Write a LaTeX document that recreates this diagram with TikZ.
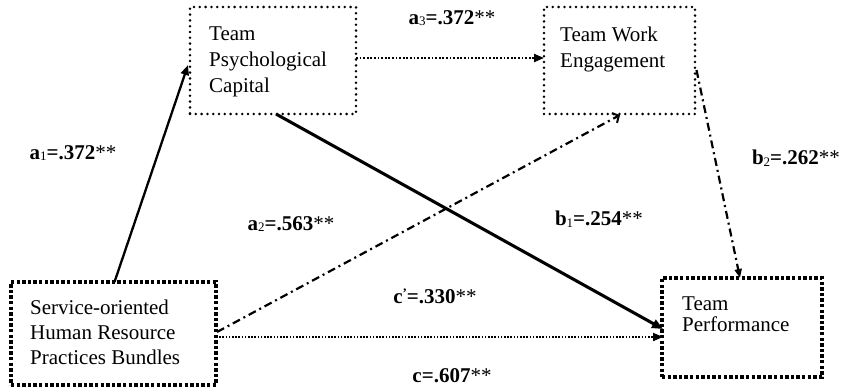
\documentclass[tikz,border=0pt]{standalone}
\usepackage{fontspec}
\setmainfont{Liberation Serif}
\usetikzlibrary{arrows.meta,calc}
\newcommand\sbs[1]{\raisebox{-1.5pt}{\fontsize{13}{13}\selectfont\mdseries #1}}
\newcommand\stars{{\mdseries **}}
\begin{document}
\begin{tikzpicture}[x=1pt,y=-1pt,
  roundbox/.style={draw, line width=2.8pt, dash pattern=on 0pt off 5.8pt, line cap=round, inner sep=0pt, outer sep=0pt},
  squarebox/.style={draw, line width=3.4pt, dash pattern=on 3.4pt off 2.2pt, inner sep=0pt, outer sep=0pt},
  boxtext/.style={anchor=north west, align=left, inner sep=0pt},
  lab/.style={font=\fontsize{21}{24}\selectfont\bfseries, inner sep=0pt},
  solidarr/.style={line width=2.3pt, -{Triangle[length=10pt,width=8pt]}},
  thickarr/.style={line width=3.1pt, -{Triangle[length=11pt,width=9pt]}},
  dotarr/.style={line width=2.2pt, dash pattern=on 1.8pt off 1.8pt, -{Triangle[length=10pt,width=8pt]}},
  dashdotarr/.style={line width=2.2pt, dash pattern=on 8pt off 4pt on 2pt off 4pt},
]
\useasboundingbox (0,0) rectangle (842,391);

% boxes
\node[roundbox, minimum width=166pt, minimum height=107pt] (pc) at (273,60.5) {};
\node[roundbox, minimum width=151pt, minimum height=107pt] (twe) at (619.5,60.5) {};
\node[squarebox, minimum width=205pt, minimum height=103pt] (shrm) at (113.5,333.5) {};
\node[squarebox, minimum width=160pt, minimum height=99pt] (tp) at (742,327.5) {};

% box texts
\node[boxtext, font=\fontsize{21}{26}\selectfont] (pct) at (209,27) {Team\\Psychological\\Capital};
\node[boxtext, font=\fontsize{21}{26}\selectfont] (twet) at (560,27) {Team Work\\Engagement};
\node[boxtext, font=\fontsize{21}{25}\selectfont] (shrmt) at (30,299.5) {Service-oriented\\Human Resource\\Practices Bundles};
\node[boxtext, font=\fontsize{21}{21}\selectfont] (tpt) at (682,296.5) {Team\\Performance};

% connectors
\coordinate (a1s) at ($(shrm.north)+(1,0)$);
\coordinate (a1e) at ($(pc.west)+(-2,4.5)$);
\draw[solidarr] (a1s) -- (a1e);

\draw[dotarr] ($(pc.east)+(0,-2.5)$) -- ($(twe.west)+(0,-2.5)$);

\draw[thickarr] ($(pc.south)+(3,0)$) -- ($(tp.west)+(1,1.5)$);

\draw[dashdotarr, -{Straight Barb[length=5pt,width=11pt,line width=2pt]}] ($(shrm.east)+(1,-1.5)$) -- ($(twe.south)+(0.5,1)$);

\draw[line width=1.9pt, dash pattern=on 1.6pt off 1.6pt, -{Triangle[length=10pt,width=8pt]}] ($(shrm.east)+(0,3.5)$) -- ($(tp.west)+(1,9.5)$);

\draw[dashdotarr, -{Triangle[length=9pt,width=7pt]}] ($(twe.east)+(1.5,9.5)$) -- ($(tp.north)+(-2,0)$);

% labels
\node[lab] (la3) at (452,18) {a\sbs{3}=.372\stars};
\node[lab] (la1) at (73,153) {a\sbs{1}=.372\stars};
\node[lab] (la2) at (291,224) {a\sbs{2}=.563\stars};
\node[lab] (lb1) at (599,219) {b\sbs{1}=.254\stars};
\node[lab] (lb2) at (796,158) {b\sbs{2}=.262\stars};
\node[lab] (lcp) at (435,296) {c\raisebox{6pt}{\fontsize{13}{13}\selectfont ’}=.330\stars};
\node[lab] (lc) at (452,376) {c=.607\stars};
\end{tikzpicture}
\end{document}
